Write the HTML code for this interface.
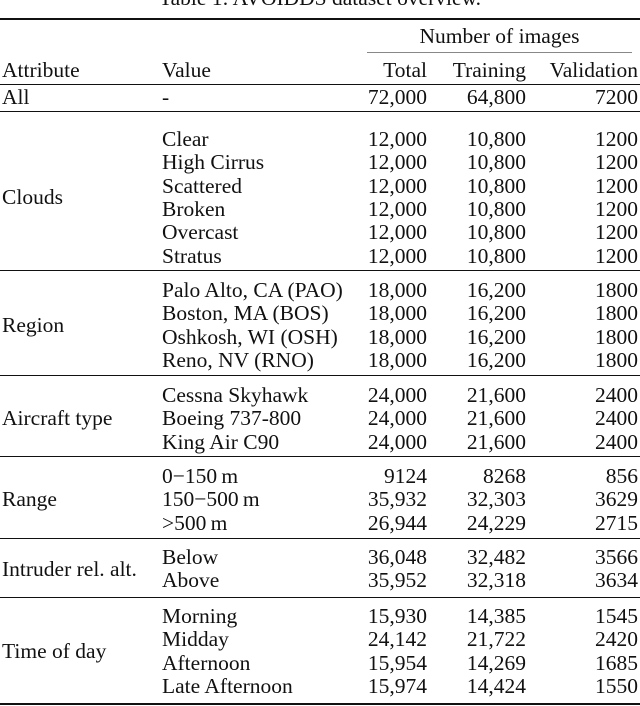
<!DOCTYPE html>
<html><head><meta charset="utf-8">
<style>
body{margin:0;width:640px;height:706px;background:#fff;position:relative;overflow:hidden;font-family:"Liberation Serif","Times New Roman",serif;font-size:21.5px;color:#111;}
.t{position:absolute;white-space:nowrap;line-height:20px;}
.r{position:absolute;left:0;width:640px;background:#111;}
</style></head><body>
<div class="t" style="left:0;width:640px;text-align:center;top:-12px;">Table 1: AVOIDDS dataset overview.</div>
<div class="r" style="top:18px;height:2px"></div>
<div class="t" style="left:367px;width:265px;text-align:center;top:26px;">Number of images</div>
<div class="r" style="top:52px;height:1px;left:367px;width:265px;background:#888"></div>
<div class="t" style="left:2px;top:60px">Attribute</div>
<div class="t" style="left:162px;top:60px">Value</div>
<div class="t" style="right:213px;top:60px">Total</div>
<div class="t" style="right:114px;top:60px">Training</div>
<div class="t" style="right:2px;top:60px">Validation</div>
<div id="body"></div>
<script>
const groups=[
 ["All",[["-","72,000","64,800","7200"]],97,null],
 ["Clouds",[["Clear","12,000","10,800","1200"],["High Cirrus","12,000","10,800","1200"],["Scattered","12,000","10,800","1200"],["Broken","12,000","10,800","1200"],["Overcast","12,000","10,800","1200"],["Stratus","12,000","10,800","1200"]],139,270],
 ["Region",[["Palo Alto, CA (PAO)","18,000","16,200","1800"],["Boston, MA (BOS)","18,000","16,200","1800"],["Oshkosh, WI (OSH)","18,000","16,200","1800"],["Reno, NV (RNO)","18,000","16,200","1800"]],290,375],
 ["Aircraft type",[["Cessna Skyhawk","24,000","21,600","2400"],["Boeing 737-800","24,000","21,600","2400"],["King Air C90","24,000","21,600","2400"]],395,456],
 ["Range",[["0\u2212150\u2009m","9124","8268","856"],["150\u2212500\u2009m","35,932","32,303","3629"],[">500\u2009m","26,944","24,229","2715"]],476,538],
 ["Intruder rel. alt.",[["Below","36,048","32,482","3566"],["Above","35,952","32,318","3634"]],557,597],
 ["Time of day",[["Morning","15,930","14,385","1545"],["Midday","24,142","21,722","2420"],["Afternoon","15,954","14,269","1685"],["Late Afternoon","15,974","14,424","1550"]],616,703]
];
const host=document.getElementById('body');
function add(cls,style,txt,name){const d=document.createElement('div');d.className=cls;d.style.cssText=style;if(txt!==null)d.textContent=txt;


host.appendChild(d);}
add('r','top:84px;height:1px',null,'header-rule');
add('r','top:111px;height:1px',null,'all-rule');
groups.forEach((g,gi)=>{
 const step=23.3, y0=g[2], n=g[1].length;
 const mid=y0+(n-1)*step/2;
 add('t','left:2px;top:'+(mid-10)+'px',g[0],'attribute-'+gi);
 g[1].forEach((row,i)=>{
  const y=y0+i*step-10;
  add('t','left:162px;top:'+y+'px',row[0],'value-cell');
  add('t','right:213px;top:'+y+'px',row[1],'total-cell');
  add('t','right:114px;top:'+y+'px',row[2],'training-cell');
  add('t','right:2px;top:'+y+'px',row[3],'validation-cell');
 });
 if(g[3]!==null) add('r','top:'+g[3]+'px;height:'+(g[3]>=700?2:1)+'px',null,'group-rule');
});
</script>
</body></html>
